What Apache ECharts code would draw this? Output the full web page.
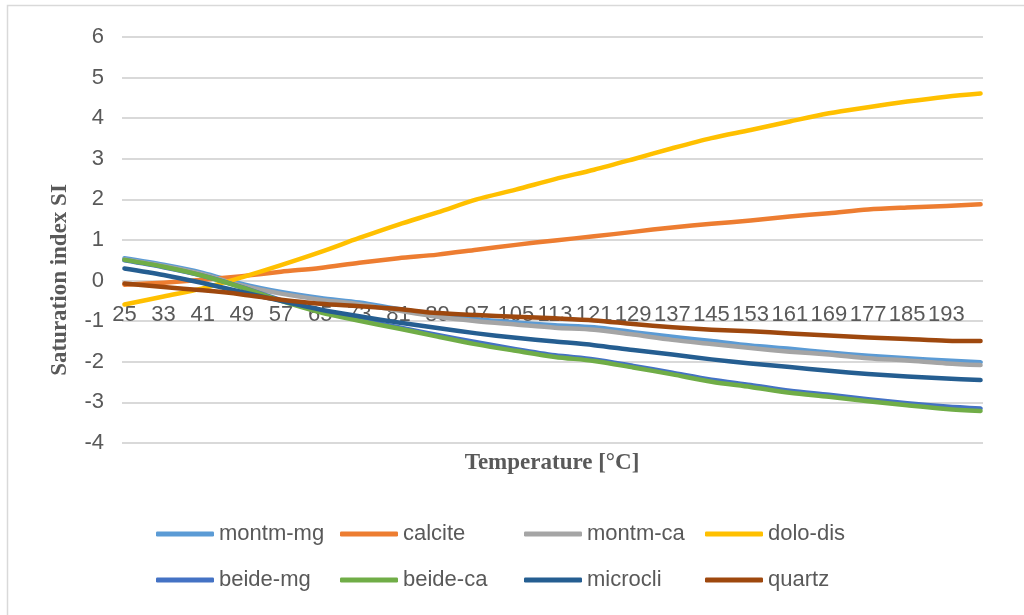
<!DOCTYPE html>
<html>
<head>
<meta charset="utf-8">
<script src="https://cdn.jsdelivr.net/npm/echarts@6/dist/echarts.min.js"></script>
<style>
  html, body { margin: 0; padding: 0; background: #ffffff; }
  #chart { width: 1024px; height: 615px; }
</style>
</head>
<body>
<div id="chart"></div>
<script>
// Temperature categories, one per degree
const temps = [];
for (let t = 25; t <= 200; t++) temps.push(String(t));

// Temperatures at which the saturation indices are listed
const sampleTemps = [25, 33, 41, 49, 57, 65, 73, 81, 89, 97, 105, 113, 121, 129, 137, 145, 153, 161, 169, 177, 185, 193, 200];

const seriesNames = ['montm-mg', 'calcite', 'montm-ca', 'dolo-dis', 'beide-mg', 'beide-ca', 'microcli', 'quartz'];

const montmMg = [0.55, 0.39, 0.19, -0.08, -0.28, -0.43, -0.54, -0.70, -0.84, -0.95, -1.03, -1.10, -1.15, -1.27, -1.38, -1.49, -1.60, -1.68, -1.77, -1.85, -1.91, -1.97, -2.01];
const calcite = [-0.10, -0.05, 0.02, 0.11, 0.22, 0.31, 0.44, 0.55, 0.64, 0.76, 0.88, 0.99, 1.09, 1.20, 1.31, 1.40, 1.48, 1.58, 1.66, 1.75, 1.80, 1.84, 1.88];
const montmCa = [0.52, 0.36, 0.16, -0.12, -0.32, -0.47, -0.58, -0.74, -0.89, -1.00, -1.08, -1.16, -1.21, -1.33, -1.46, -1.56, -1.66, -1.75, -1.82, -1.91, -1.97, -2.04, -2.08];
const doloDis = [-0.59, -0.39, -0.19, 0.08, 0.38, 0.70, 1.05, 1.38, 1.68, 2.00, 2.24, 2.50, 2.73, 2.99, 3.26, 3.51, 3.71, 3.92, 4.12, 4.27, 4.41, 4.53, 4.61];
const beideMg = [0.50, 0.33, 0.12, -0.16, -0.48, -0.75, -0.96, -1.15, -1.34, -1.52, -1.69, -1.84, -1.94, -2.10, -2.27, -2.44, -2.57, -2.71, -2.81, -2.92, -3.02, -3.10, -3.15];
const beideCa = [0.51, 0.34, 0.12, -0.17, -0.50, -0.78, -0.99, -1.18, -1.38, -1.57, -1.73, -1.88, -1.98, -2.14, -2.31, -2.49, -2.62, -2.76, -2.86, -2.97, -3.07, -3.16, -3.21];
const microcli = [0.30, 0.14, -0.06, -0.28, -0.50, -0.71, -0.88, -1.03, -1.17, -1.30, -1.41, -1.50, -1.59, -1.71, -1.82, -1.94, -2.04, -2.13, -2.22, -2.30, -2.36, -2.41, -2.45];
const quartz = [-0.07, -0.16, -0.24, -0.34, -0.47, -0.57, -0.63, -0.70, -0.80, -0.85, -0.89, -0.93, -0.98, -1.07, -1.15, -1.21, -1.25, -1.30, -1.35, -1.40, -1.44, -1.48, -1.49];

const seriesValues = [montmMg, calcite, montmCa, doloDis, beideMg, beideCa, microcli, quartz];
const seriesColors = ['#5B9BD5', '#ED7D31', '#A5A5A5', '#FFC000', '#4472C4', '#70AD47', '#255E91', '#9E480E'];

const labelFont = '"Liberation Sans", Arial, sans-serif';
const titleFont = '"Liberation Serif", "Times New Roman", serif';
const textGrey = '#595959';
const gridGrey = '#d9d9d9';

const series = seriesNames.map((name, k) => ({
  name: name,
  type: 'line',
  data: sampleTemps.map((t, i) => [String(t), seriesValues[k][i]]),
  showSymbol: false,
  symbol: 'none',
  smooth: 0.3,
  color: seriesColors[k],
  lineStyle: { width: 4.5, color: seriesColors[k], cap: 'round', join: 'round' },
  emphasis: { disabled: true },
  animation: false
}));

// Legend laid out as four columns of two entries
const legendColumns = [
  { left: 151, data: ['montm-mg', 'beide-mg'] },
  { left: 335, data: ['calcite', 'beide-ca'] },
  { left: 519, data: ['montm-ca', 'microcli'] },
  { left: 700, data: ['dolo-dis', 'quartz'] }
];

const chart = echarts.init(document.getElementById('chart'), null, { renderer: 'canvas' });
chart.setOption({
  backgroundColor: '#ffffff',
  animation: false,
  grid: { left: 122, right: 41, top: 37, bottom: 172, containLabel: false },
  xAxis: {
    type: 'category',
    data: temps,
    boundaryGap: true,
    axisLine: { show: false },
    axisTick: { show: false },
    // category labels sit just under the zero line
    axisLabel: { interval: 7, color: textGrey, fontSize: 22, fontFamily: labelFont, margin: -139 },
    splitLine: { show: false }
  },
  yAxis: {
    type: 'value',
    min: -4,
    max: 6,
    interval: 1,
    axisLine: { show: false },
    axisTick: { show: false },
    axisLabel: { color: textGrey, fontSize: 22, fontFamily: labelFont, margin: 18 },
    splitLine: { show: true, lineStyle: { color: gridGrey, width: 2 } }
  },
  legend: legendColumns.map(col => ({
    data: col.data,
    left: col.left,
    top: 518,
    orient: 'vertical',
    itemGap: 24,
    itemWidth: 58,
    itemHeight: 5,
    icon: 'roundRect',
    selectedMode: false,
    textStyle: { color: textGrey, fontSize: 22, fontFamily: labelFont, lineHeight: 22 }
  })),
  graphic: [
    {
      type: 'rect',
      z: -10,
      silent: true,
      shape: { x: 7.5, y: 5.5, width: 1040, height: 640 },
      style: { fill: 'none', stroke: gridGrey, lineWidth: 1.5 }
    },
    {
      type: 'text',
      x: 552,
      y: 463,
      silent: true,
      style: {
        text: 'Temperature [°C]',
        font: 'bold 23px ' + titleFont,
        fill: textGrey,
        textAlign: 'center',
        textVerticalAlign: 'middle'
      }
    },
    {
      type: 'text',
      x: 60,
      y: 280,
      rotation: Math.PI / 2,
      silent: true,
      style: {
        text: 'Saturation index SI',
        font: 'bold 23px ' + titleFont,
        fill: textGrey,
        textAlign: 'center',
        textVerticalAlign: 'middle'
      }
    }
  ],
  series: series
});
</script>
</body>
</html>
